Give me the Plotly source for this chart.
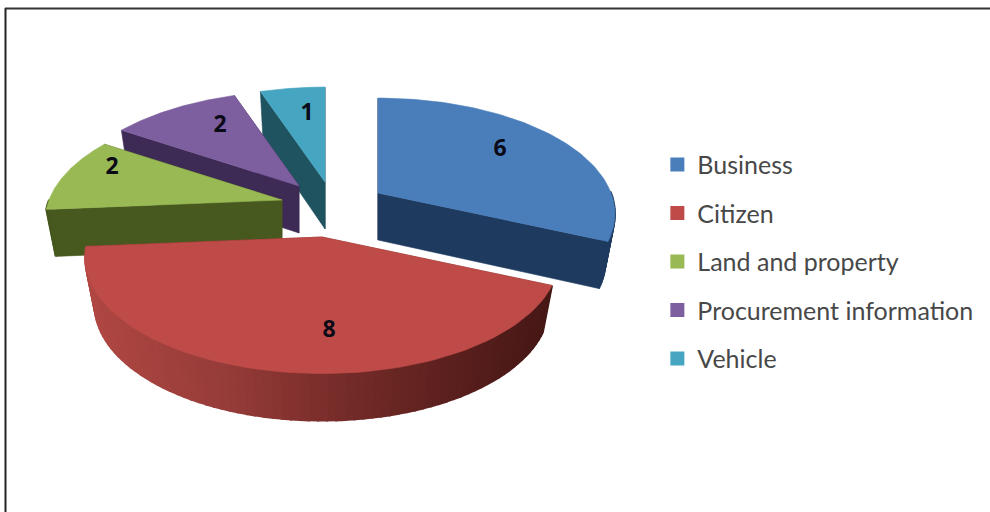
import numpy as np
import plotly.graph_objects as go

# Survey counts per service category
categories = ["Business", "Citizen", "Land and property", "Procurement information", "Vehicle"]
counts = [6, 8, 2, 2, 1]

top_colors = ["#4A7EBB", "#BE4B48", "#98B954", "#7D5FA0", "#46A5C0"]
side_colors = ["#1F3A5F", "#7D2E2B", "#47591F", "#3D2A55", "#1F5360"]

# Pixel position of each wedge's apex after it is pulled out of the pie
apexes = [(378, 193), (322, 237), (282, 200), (299, 186), (325, 182)]
label_pos = [(500, 150), (329, 331), (112, 168), (220, 126), (307, 114)]

RADIUS = 233      # horizontal radius on the pie's centre line
TILT = 112        # vertical radius before perspective
PERSPECTIVE = 0.18
DEPTH = 47        # thickness of the pie
TAPER = 0.96      # the underside narrows slightly away from the viewer

# Shading along the red wedge's outer wall, left to right
wall_stops = [(0.0, (176, 72, 68)), (0.3, (150, 60, 57)), (0.55, (118, 44, 41)),
              (0.8, (90, 32, 30)), (1.0, (70, 24, 22))]


def rim(theta_deg, apex, frac=1.0):
    """Project a point on the pie plane (angle clockwise from the back) to pixels."""
    t = np.radians(theta_deg)
    X, Y = np.sin(t) * frac, -np.cos(t) * frac
    s = 1 / (1 - PERSPECTIVE * Y)
    return apex[0] + RADIUS * X * s, apex[1] + TILT * Y * s


def under(pt, apex):
    """Same point on the underside of the pie."""
    return apex[0] + (pt[0] - apex[0]) * TAPER, pt[1] + DEPTH


def poly(fig, pts, color, stroke=0.6):
    xs, ys = zip(*pts)
    fig.add_trace(go.Scatter(
        x=list(xs) + [xs[0]], y=list(ys) + [ys[0]], mode="lines", fill="toself",
        fillcolor=color, line=dict(color=color, width=stroke),
        hoverinfo="skip", showlegend=False))


def wall_color(f):
    xs = [s[0] for s in wall_stops]
    rgb = [np.interp(f, xs, [s[1][i] for s in wall_stops]) for i in range(3)]
    return "rgb(%d,%d,%d)" % tuple(rgb)


fig = go.Figure()

total = sum(counts)
edges = np.concatenate([[0], np.cumsum(counts)]) / total * 360

# Paint from the back of the pie forward so nearer wedges overlap farther ones
for i in [4, 3, 2, 0, 1]:
    a0, a1 = edges[i], edges[i + 1]
    apex = apexes[i]
    angles = np.linspace(a0, a1, 80)
    arc = [rim(a, apex) for a in angles]
    low_apex = under(apex, apex)

    # Cut faces on both radial edges
    for p in (arc[0], arc[-1]):
        poly(fig, [apex, p, under(p, apex), low_apex], side_colors[i])

    # Outer wall, split into strips where it faces the viewer
    x_min, x_max = min(p[0] for p in arc), max(p[0] for p in arc)
    for a, b, pa, pb in zip(angles[:-1], angles[1:], arc[:-1], arc[1:]):
        if not (90 <= a <= 270 or 90 <= b <= 270):
            continue
        if i == 1:
            color = wall_color(((pa[0] + pb[0]) / 2 - x_min) / (x_max - x_min))
        else:
            color = side_colors[i]
        poly(fig, [pa, pb, under(pb, apex), under(pa, apex)], color, stroke=2)

    # Top face
    poly(fig, [apex] + arc, top_colors[i])

# Count labels on the wedges
for value, (lx, ly) in zip(counts, label_pos):
    fig.add_trace(go.Scatter(
        x=[lx], y=[ly], mode="text", text=[str(value)],
        textfont=dict(family="Open Sans", size=23, color="#0b0b18", weight="bold"),
        hoverinfo="skip", showlegend=False))

# Legend entries, each in its own group so the row gap can be set
for name, color in zip(categories, top_colors):
    fig.add_trace(go.Scatter(
        x=[None], y=[None], mode="markers", name=name, legendgroup=name,
        marker=dict(symbol="square", size=14, color=color)))

fig.update_layout(
    width=990, height=512, margin=dict(l=0, r=0, t=0, b=0),
    paper_bgcolor="white", plot_bgcolor="white",
    xaxis=dict(range=[0, 990], visible=False, fixedrange=True),
    yaxis=dict(range=[512, 0], visible=False, fixedrange=True),
    legend=dict(x=0.664, y=0.723, xanchor="left", yanchor="top", bgcolor="rgba(0,0,0,0)",
                tracegroupgap=13, itemwidth=30,
                font=dict(family="Lato", size=25, color="#484848")),
    shapes=[
        dict(type="line", xref="x", yref="y", x0=5.5, x1=5.5, y0=8, y1=512,
             line=dict(color="#222222", width=2)),
        dict(type="line", xref="x", yref="y", x0=5, x1=990, y0=8.5, y1=8.5,
             line=dict(color="#333333", width=2)),
    ],
)

fig.write_html("out.html", config=dict(displayModeBar=False))
